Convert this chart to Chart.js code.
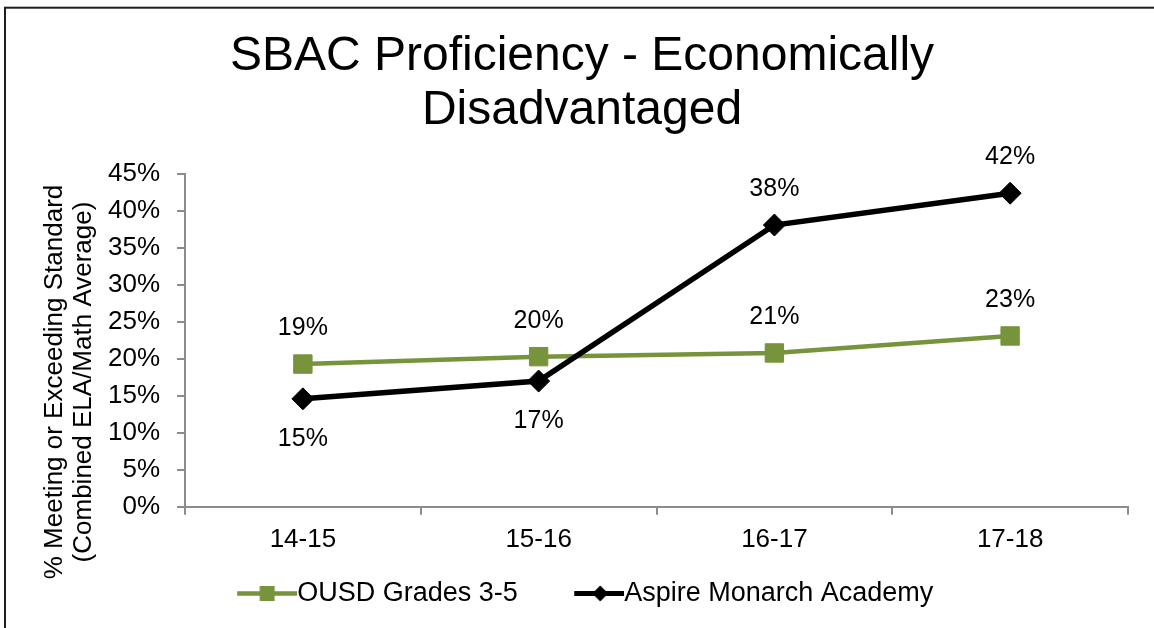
<!DOCTYPE html>
<html>
<head>
<meta charset="utf-8">
<script src="https://cdn.jsdelivr.net/npm/chart.js@4.4.1/dist/chart.umd.min.js"></script>
<style>
  html, body { margin: 0; padding: 0; background: #fff; overflow: hidden; }
</style>
</head>
<body>
<canvas id="myChart" width="1154" height="628"></canvas>
<script>
const categories = ['14-15', '15-16', '16-17', '17-18'];
const ousdGrades = [19.3, 20.3, 20.8, 23.1];
const aspireMonarch = [14.6, 17.0, 38.1, 42.4];
const seriesNames = ['OUSD Grades 3-5', 'Aspire Monarch Academy'];
const titleLines = ['SBAC Proficiency - Economically', 'Disadvantaged'];
const yTitleLines = ['% Meeting or Exceeding Standard', '(Combined ELA/Math Average)'];
const yMin = 0, yMax = 45, yStep = 5;

// where each value label sits relative to its point
const labelPlacement = [
  ['above', 'above', 'above', 'above'],
  ['below', 'below', 'above', 'above']
];

const FONT = "'Liberation Sans', Arial, sans-serif";
const GREEN = '#77933C';
const AXIS = '#8c8c8c';

Chart.defaults.font.family = FONT;
Chart.defaults.color = '#000';

// little line+marker pictures for the legend
function legendIcon(color, style, from, markerX, lw, r) {
  const c = document.createElement('canvas');
  c.width = 104; c.height = 27;
  const g = c.getContext('2d');
  g.strokeStyle = color; g.fillStyle = color; g.lineWidth = lw;
  g.beginPath(); g.moveTo(from, 13.5); g.lineTo(104, 13.5); g.stroke();
  g.beginPath();
  if (style === 'rect') {
    g.rect(markerX - r, 13.5 - r, 2 * r, 2 * r);
  } else {
    g.moveTo(markerX, 13.5 - r); g.lineTo(markerX + r, 13.5);
    g.lineTo(markerX, 13.5 + r); g.lineTo(markerX - r, 13.5);
    g.closePath();
  }
  g.fill();
  return c;
}
const icons = [
  legendIcon(GREEN, 'rect', 44, 74, 4.5, 7.5),
  legendIcon('#000', 'diamond', 54, 80, 5, 8)
];

const frame = {
  id: 'frame',
  beforeDraw(chart) {
    const ctx = chart.ctx;
    ctx.save();
    ctx.fillStyle = '#fff';
    ctx.fillRect(0, 0, chart.width, chart.height);
    ctx.strokeStyle = '#1e1e1e';
    ctx.lineWidth = 2;
    ctx.strokeRect(5, 7.7, chart.width + 20, chart.height + 20);
    ctx.restore();
  }
};

// legend sits a bit left of centre in the original
const legendShift = {
  id: 'legendShift',
  afterLayout(chart) {
    chart.legend.left -= 12;
    chart.legend.right -= 12;
  }
};

const yTitle = {
  id: 'yTitle',
  afterDraw(chart) {
    const ctx = chart.ctx;
    ctx.save();
    ctx.font = '26px ' + FONT;
    ctx.fillStyle = '#000';
    ctx.textAlign = 'center';
    ctx.textBaseline = 'middle';
    yTitleLines.forEach((t, i) => {
      ctx.save();
      ctx.translate(55 + i * 29, 382);
      ctx.rotate(-Math.PI / 2);
      ctx.fillText(t, 0, 0);
      ctx.restore();
    });
    ctx.restore();
  }
};

const valueLabels = {
  id: 'valueLabels',
  afterDatasetsDraw(chart) {
    const ctx = chart.ctx;
    ctx.save();
    ctx.font = '25px ' + FONT;
    ctx.fillStyle = '#000';
    ctx.textAlign = 'center';
    ctx.textBaseline = 'middle';
    chart.data.datasets.forEach((ds, di) => {
      chart.getDatasetMeta(di).data.forEach((pt, i) => {
        const dy = labelPlacement[di][i] === 'above' ? -36 : 40.5;
        ctx.fillText(Math.round(ds.data[i]) + '%', pt.x, pt.y + dy);
      });
    });
    ctx.restore();
  }
};

const data = {
  labels: categories,
  datasets: [{
    label: seriesNames[0],
    data: ousdGrades,
    borderColor: GREEN,
    backgroundColor: GREEN,
    borderWidth: 4.5,
    pointStyle: 'rect',
    pointRadius: 13,
    pointBorderWidth: 1,
    tension: 0,
    order: 1
  }, {
    label: seriesNames[1],
    data: aspireMonarch,
    borderColor: '#000',
    backgroundColor: '#000',
    borderWidth: 5.5,
    pointStyle: 'rectRot',
    pointRadius: 11,
    pointBorderWidth: 1,
    tension: 0,
    order: 0
  }]
};

const config = {
  type: 'line',
  data: data,
  options: {
    responsive: false,
    animation: false,
    devicePixelRatio: 1,
    layout: { padding: { left: 36, right: 26, top: 0, bottom: 11 } },
    plugins: {
      title: {
        display: true,
        text: titleLines,
        color: '#000',
        font: { size: 48, weight: 'normal', lineHeight: 1.125 },
        padding: { top: 30, bottom: 36 }
      },
      legend: {
        position: 'bottom',
        labels: {
          usePointStyle: true,
          pointStyleWidth: 77,
          padding: 16,
          color: '#000',
          font: { size: 27 },
          sort: (a, b) => a.datasetIndex - b.datasetIndex,
          generateLabels(chart) {
            const items = Chart.defaults.plugins.legend.labels.generateLabels(chart);
            items.forEach(it => { it.pointStyle = icons[it.datasetIndex]; });
            return items;
          }
        }
      },
      tooltip: { enabled: false }
    },
    scales: {
      x: {
        offset: true,
        grid: { offset: true, drawOnChartArea: false, tickLength: 8, color: AXIS, lineWidth: 2 },
        border: { color: AXIS, width: 2 },
        ticks: { padding: 9, color: '#000', font: { size: 26 } }
      },
      y: {
        min: yMin,
        max: yMax,
        grid: { drawOnChartArea: false, tickLength: 8, color: AXIS, lineWidth: 2 },
        border: { color: AXIS, width: 2 },
        ticks: {
          stepSize: yStep,
          padding: 17,
          color: '#000',
          font: { size: 26 },
          callback: v => v + '%'
        },
        afterFit(scale) { scale.width = 149; }
      }
    }
  },
  plugins: [frame, legendShift, yTitle, valueLabels]
};

new Chart(document.getElementById('myChart'), config);
</script>
</body>
</html>
